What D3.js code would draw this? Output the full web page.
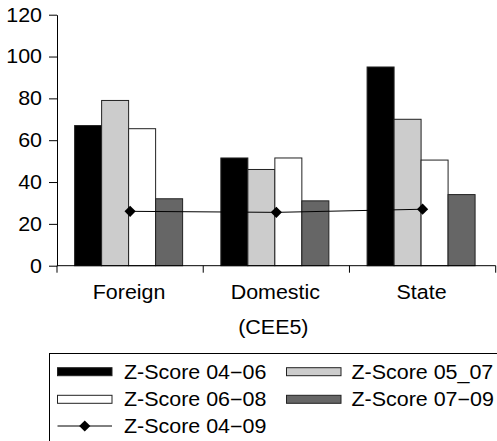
<!DOCTYPE html>
<html>
<head>
<meta charset="utf-8">
<script src="https://cdn.jsdelivr.net/npm/d3@7"></script>
<style>
  html, body { margin: 0; padding: 0; background: #fff; }
  svg { display: block; font-family: "Liberation Sans", Arial, sans-serif; }
</style>
</head>
<body>
<svg id="chart" width="497" height="441"></svg>
<script>
// Z-Score by ownership group (CEE5)
const categories = ["Foreign", "Domestic", "State"];
const barSeries = ["Z-Score 04\u221206", "Z-Score 05_07", "Z-Score 06\u221208", "Z-Score 07\u221209"];
const z0406 = [67, 51.5, 95];
const z0507 = [79, 46, 70];
const z0608 = [65.5, 51.5, 50.5];
const z0709 = [32, 31, 34];
const lineSeries = "Z-Score 04\u221209";
const z0409 = [26, 25.5, 27];
const yTicks = [0, 20, 40, 60, 80, 100, 120];
const xTitle = "(CEE5)";

const barValues = [z0406, z0507, z0608, z0709];
const barFill = ["#000000", "#cccccc", "#ffffff", "#666666"];

const svg = d3.select("#chart");
const fontSize = 19.5;
const stretch = 1.1;

// text helper: slightly wide type, anchored at (x, y)
function label(g, x, y, txt, anchor) {
  return g.append("text")
    .attr("transform", `translate(${x},${y}) scale(${stretch},1)`)
    .attr("text-anchor", anchor || "start")
    .attr("dy", "0.35em")
    .attr("font-size", fontSize)
    .attr("fill", "#000")
    .text(txt);
}

const plot = { left: 57, right: 495.7, top: 14.7, bottom: 265.7 };

const y = d3.scaleLinear().domain([0, 120]).range([plot.bottom, plot.top]);
const x0 = d3.scaleBand().domain(categories).range([plot.left, plot.right]).padding(0);
const groupWidth = 108;
const x1 = d3.scaleBand().domain(barSeries).range([0, groupWidth]).padding(0);
const groupX = c => x0(c) + (x0.bandwidth() - groupWidth) / 2 - 1.5;
const centerX = c => x0(c) + x0.bandwidth() / 2;

// bars
barSeries.forEach((s, si) => {
  svg.append("g").selectAll("rect")
    .data(categories.map((c, ci) => ({ c, v: barValues[si][ci] })))
    .join("rect")
    .attr("x", d => groupX(d.c) + x1(s))
    .attr("y", d => y(d.v))
    .attr("width", x1.bandwidth())
    .attr("height", d => y(0) - y(d.v))
    .attr("fill", barFill[si])
    .attr("stroke", "#222")
    .attr("stroke-width", 1);
});

// y axis
const yAxis = svg.append("g").attr("transform", `translate(${plot.left},0)`)
  .call(d3.axisLeft(y).tickValues(yTicks).tickSize(8).tickSizeOuter(0).tickFormat(""));
yAxis.select(".domain").attr("stroke", "#000");
yAxis.selectAll(".tick line").attr("stroke", "#000");
yTicks.forEach(t => label(svg, 42, y(t), String(t), "end"));

// x axis with ticks between categories
const xAxisG = svg.append("g").attr("transform", `translate(0,${plot.bottom})`);
xAxisG.append("line").attr("x1", plot.left).attr("x2", plot.right)
  .attr("y1", 0).attr("y2", 0).attr("stroke", "#000");
const boundaries = categories.map(c => x0(c)).concat([x0(categories[categories.length - 1]) + x0.bandwidth()]);
xAxisG.selectAll("line.tk").data(boundaries).join("line").attr("class", "tk")
  .attr("x1", d => d).attr("x2", d => d).attr("y1", 0).attr("y2", 7).attr("stroke", "#000");
categories.forEach(c => label(svg, centerX(c) - 1, 292, c, "middle"));
label(svg, centerX(categories[1]) - 3, 327, xTitle, "middle");

// line series
const line = d3.line().x((d, i) => centerX(categories[i])).y(d => y(d));
svg.append("path").datum(z0409).attr("d", line)
  .attr("fill", "none").attr("stroke", "#000").attr("stroke-width", 1);
const diamond = d3.symbol().type(d3.symbolDiamond2).size(80);
svg.append("g").selectAll("path").data(z0409).join("path")
  .attr("d", diamond)
  .attr("transform", (d, i) => `translate(${centerX(categories[i])},${y(d)})`)
  .attr("fill", "#000");

// legend
const lg = svg.append("g");
lg.append("rect").attr("x", 49.5).attr("y", 353.5).attr("width", 460).attr("height", 100)
  .attr("fill", "none").attr("stroke", "#000").attr("stroke-width", 1);
const rows = [371.7, 399.3, 426];
const cols = [{ sx: 57.5, tx: 124 }, { sx: 286.5, tx: 351.5 }];
const swW = 54.5, swH = 8;
barSeries.forEach((s, i) => {
  const col = cols[i % 2], ry = rows[Math.floor(i / 2)];
  lg.append("rect").attr("x", col.sx).attr("y", ry - swH / 2).attr("width", swW).attr("height", swH)
    .attr("fill", barFill[i]).attr("stroke", "#222").attr("stroke-width", 1);
  label(lg, col.tx, ry, s, "start");
});
lg.append("line").attr("x1", cols[0].sx).attr("x2", cols[0].sx + swW)
  .attr("y1", rows[2]).attr("y2", rows[2]).attr("stroke", "#000");
lg.append("path").attr("d", diamond)
  .attr("transform", `translate(${cols[0].sx + swW / 2},${rows[2]})`).attr("fill", "#000");
label(lg, cols[0].tx, rows[2], lineSeries, "start");
</script>
</body>
</html>
